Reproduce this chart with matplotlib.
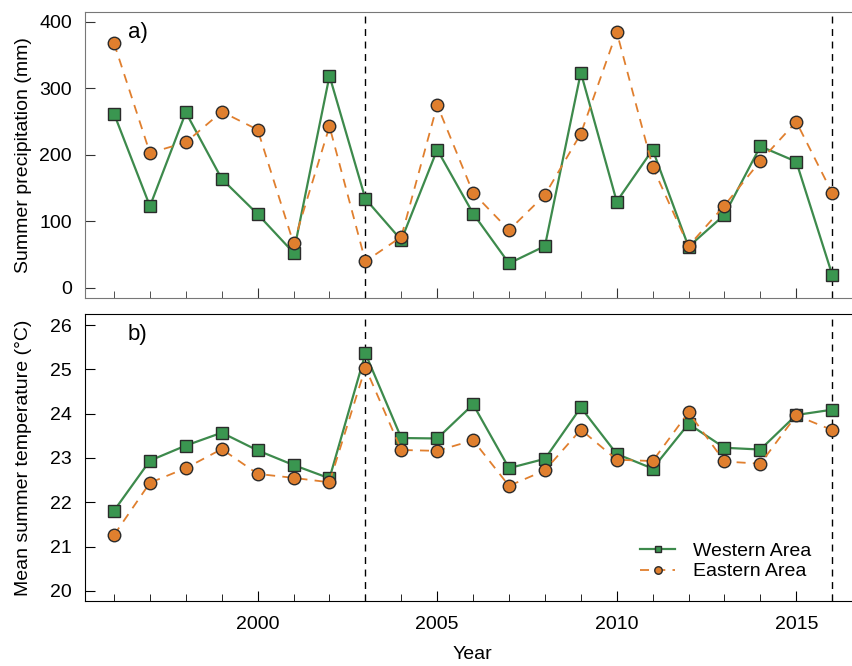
import matplotlib
matplotlib.use("Agg")
import matplotlib.pyplot as plt
from matplotlib.ticker import MultipleLocator

plt.rcParams["font.family"] = ["Liberation Sans", "DejaVu Sans"]

years = list(range(1996, 2017))

# summer precipitation (mm)
precip_west = [262, 123, 264, 164, 111, 53, 319, 134, 72, 208, 112,
               37, 63, 324, 130, 208, 62, 110, 213, 190, 20]
precip_east = [368, 203, 219, 265, 238, 67, 243, 40, 77, 275, 143,
               87, 140, 232, 385, 182, 63, 124, 191, 250, 143]

# mean summer temperature (deg C)
temp_west = [21.81, 22.94, 23.28, 23.57, 23.17, 22.84, 22.54, 25.36, 23.45, 23.44, 24.21,
             22.77, 22.98, 24.14, 23.09, 22.76, 23.77, 23.23, 23.19, 23.97, 24.09]
temp_east = [21.26, 22.44, 22.77, 23.20, 22.64, 22.55, 22.45, 25.04, 23.18, 23.16, 23.40,
             22.37, 22.72, 23.64, 22.96, 22.93, 24.03, 22.92, 22.87, 23.96, 23.63]

event_years = [2003, 2016]

GREEN = "#3a9650"
GREEN_LINE = "#3d8a4c"
ORANGE = "#e07f2e"
EDGE = "#2b2b2b"
FS = 14

fig = plt.figure(figsize=(8.53, 6.66), dpi=100)
ax1 = fig.add_axes([0.0996, 0.5526, 0.9004, 0.4294])
ax2 = fig.add_axes([0.0996, 0.0976, 0.9004, 0.4309])


def draw(ax, west, east):
    ax.plot(years, west, color=GREEN_LINE, lw=1.6, marker="s", ms=8,
            mfc=GREEN, mec=EDGE, mew=1.0, label="Western Area", zorder=3)
    ax.plot(years, east, color=ORANGE, lw=1.3, ls=(0, (5, 4)), marker="o", ms=9,
            mfc=ORANGE, mec=EDGE, mew=1.0, label="Eastern Area", zorder=4)
    for yr in event_years:
        ax.axvline(yr, color="black", lw=1.0, ls=(0, (5, 4)), zorder=2)
    ax.set_xlim(1995.19, 2016.58)
    ax.xaxis.set_major_locator(MultipleLocator(5))
    ax.xaxis.set_minor_locator(MultipleLocator(1))
    ax.tick_params(which="both", direction="in", labelsize=FS, top=False, right=False)
    ax.tick_params(axis="x", which="both", pad=11)
    ax.tick_params(axis="y", which="both", pad=9.5)
    ax.tick_params(which="major", length=7)
    ax.tick_params(which="minor", length=5)
    ax.spines["right"].set_visible(False)


draw(ax1, precip_west, precip_east)
ax1.set_ylim(-15, 415)
ax1.yaxis.set_major_locator(MultipleLocator(100))
ax1.tick_params(labelbottom=False)
ax1.set_ylabel("Summer precipitation (mm)", fontsize=FS)
ax1.yaxis.set_label_coords(-0.069, 0.5)
for sp in ax1.spines.values():
    sp.set_color("#777777")
ax1.tick_params(which="both", color="#333333")
ax1.text(0.056, 0.93, "a)", transform=ax1.transAxes, fontsize=16, va="center")

draw(ax2, temp_west, temp_east)
ax2.set_ylim(19.77, 26.25)
ax2.yaxis.set_major_locator(MultipleLocator(1))
ax2.set_ylabel("Mean summer temperature (°C)", fontsize=FS)
ax2.yaxis.set_label_coords(-0.069, 0.5)
ax2.set_xlabel("Year", fontsize=FS)
ax2.xaxis.set_label_coords(0.505, -0.157)
ax2.text(0.056, 0.93, "b)", transform=ax2.transAxes, fontsize=16, va="center")
ax2.legend(loc="upper left", bbox_to_anchor=(0.7227, 0.205), frameon=False,
           fontsize=FS, handlelength=1.8, handletextpad=0.93, labelspacing=0.15,
           borderpad=0, borderaxespad=0, markerscale=0.6)

fig.savefig("out.png", dpi=100)
